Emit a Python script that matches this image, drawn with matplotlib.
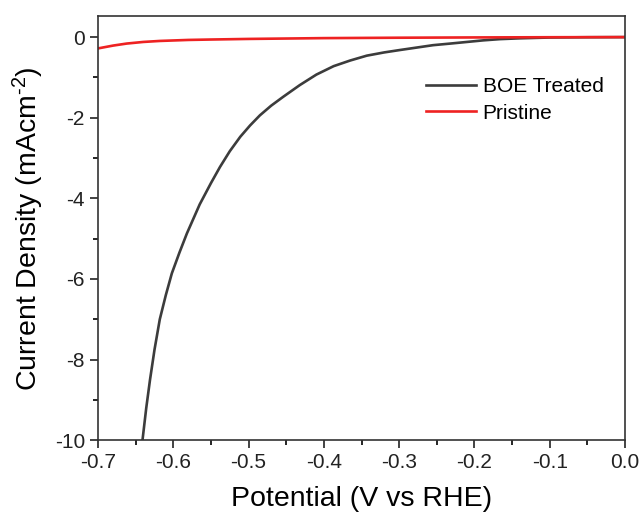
import numpy as np
import matplotlib.pyplot as plt
from matplotlib.ticker import MultipleLocator

plt.rcParams['font.family'] = ['Liberation Sans', 'DejaVu Sans']
plt.rcParams['axes.unicode_minus'] = False
plt.rcParams['mathtext.fontset'] = 'custom'
plt.rcParams['mathtext.rm'] = 'Liberation Sans'
plt.rcParams['mathtext.it'] = 'Liberation Sans'
plt.rcParams['mathtext.default'] = 'regular'

# BOE treated curve
boe_v = [-0.641, -0.636, -0.631, -0.625, -0.618, -0.610, -0.602, -0.592, -0.582,
         -0.565, -0.550, -0.538, -0.525, -0.511, -0.498, -0.485, -0.470, -0.454,
         -0.432, -0.410, -0.387, -0.365, -0.343, -0.320, -0.299, -0.277, -0.255,
         -0.232, -0.210, -0.188, -0.166, -0.140, -0.12, -0.10, -0.08, -0.05, 0.0]
boe_j = [-10.0, -9.2, -8.5, -7.75, -7.0, -6.4, -5.86, -5.35, -4.87,
         -4.15, -3.62, -3.22, -2.83, -2.47, -2.19, -1.94, -1.70, -1.48,
         -1.19, -0.93, -0.72, -0.58, -0.46, -0.38, -0.32, -0.26, -0.20,
         -0.16, -0.12, -0.08, -0.05, -0.03, -0.02, -0.01, -0.007, -0.003, 0.0]

# pristine curve
pri_v = [-0.70, -0.68, -0.662, -0.64, -0.618, -0.58, -0.551, -0.50, -0.45,
         -0.40, -0.30, -0.20, -0.10, 0.0]
pri_j = [-0.28, -0.21, -0.16, -0.12, -0.095, -0.07, -0.06, -0.045, -0.035,
         -0.025, -0.015, -0.008, -0.003, 0.0]

fig = plt.figure(figsize=(6.41, 5.21), dpi=100)
ax = fig.add_axes([0.153, 0.155, 0.822, 0.814])

ax.plot(boe_v, boe_j, color='#3c3c3c', lw=1.9, label='BOE Treated')
ax.plot(pri_v, pri_j, color='#ee2222', lw=1.9, label='Pristine')

ax.set_xlim(-0.7, 0.0)
ax.set_ylim(-10, 0.52)
ax.xaxis.set_major_locator(MultipleLocator(0.1))
ax.xaxis.set_minor_locator(MultipleLocator(0.05))
ax.yaxis.set_major_locator(MultipleLocator(2))
ax.yaxis.set_minor_locator(MultipleLocator(1))
ax.xaxis.set_major_formatter(plt.FuncFormatter(lambda v, p: '%.1f' % v if abs(v) > 1e-9 else '0.0'))
ax.yaxis.set_major_formatter(plt.FuncFormatter(lambda v, p: '%d' % round(v)))

ax.tick_params(which='major', direction='out', length=6, width=1.2, labelsize=15, colors='#222222')
ax.tick_params(which='minor', direction='out', length=3.5, width=1.2)
for s in ax.spines.values():
    s.set_linewidth(1.2)
    s.set_color('#333333')

ax.set_xlabel('Potential (V vs RHE)', fontsize=20.5, labelpad=10)
ax.set_ylabel('Current Density (mAcm$^{\u20102}$)', fontsize=20.5, labelpad=6)

ax.legend(loc='upper right', bbox_to_anchor=(0.995, 0.9), frameon=False, fontsize=15,
          handlelength=2.4, handletextpad=0.3, labelspacing=0.35)

fig.savefig('out.png', dpi=100)
